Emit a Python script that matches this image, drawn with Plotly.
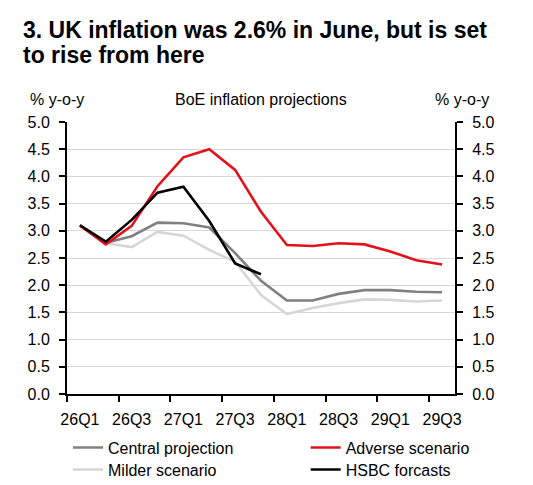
import plotly.graph_objects as go

# quarters shown on the x axis
quarters = ["26Q1", "26Q2", "26Q3", "26Q4", "27Q1", "27Q2", "27Q3", "27Q4",
            "28Q1", "28Q2", "28Q3", "28Q4", "29Q1", "29Q2", "29Q3"]

# % y-o-y
central = [3.10, 2.78, 2.90, 3.15, 3.14, 3.06, 2.59, 2.08,
           1.72, 1.72, 1.84, 1.91, 1.91, 1.88, 1.87]
milder = [3.10, 2.77, 2.70, 2.98, 2.91, 2.65, 2.43, 1.82,
          1.47, 1.58, 1.67, 1.74, 1.73, 1.70, 1.72]
adverse = [3.10, 2.75, 3.09, 3.82, 4.35, 4.50, 4.12, 3.35,
           2.74, 2.72, 2.77, 2.75, 2.62, 2.46, 2.38]
hsbc = [3.10, 2.80, 3.20, 3.70, 3.81, 3.18, 2.40, 2.20]

# the page body adds an 8px margin, so the figure is drawn 8px smaller
OFF = 8
W, H = 533 - OFF, 485 - OFF
L, R, T, B = 67 - OFF, 455.5 - OFF, 122 - OFF, 394.3 - OFF
FONT = "Liberation Sans, Arial, sans-serif"


def py(y):
    # window pixel row -> paper coordinate
    return (B - (y - OFF)) / (B - T)


def px(x):
    return ((x - OFF) - L) / (R - L)


fig = go.Figure()
fig.add_trace(go.Scatter(x=quarters, y=milder, name="Milder scenario", mode="lines",
                         line=dict(color="#d6d6d6", width=2.6), legend="legend3"))
fig.add_trace(go.Scatter(x=quarters, y=central, name="Central projection", mode="lines",
                         line=dict(color="#808080", width=2.6), legend="legend"))
fig.add_trace(go.Scatter(x=quarters, y=adverse, name="Adverse scenario", mode="lines",
                         line=dict(color="#e3111b", width=2.6), legend="legend2"))
# same range on both y axes, so the forecast line sits on the right-hand one
fig.add_trace(go.Scatter(x=quarters[:len(hsbc)], y=hsbc, name="HSBC forcasts", mode="lines",
                         line=dict(color="#000000", width=2.6), legend="legend4",
                         yaxis="y2"))

yax = dict(range=[0, 5], dtick=0.5, tick0=0, tickformat=".1f",
           ticks="outside", ticklen=6, tickwidth=2, tickcolor="black",
           showline=True, linecolor="black", linewidth=2,
           tickfont=dict(size=16, color="black"), zeroline=False,
           ticklabelstandoff=6)

leg = dict(orientation="v", xanchor="left", yanchor="middle",
           font=dict(size=16, color="black"), bgcolor="rgba(0,0,0,0)")
row1, row2 = 448, 470
col1, col2 = 68, 306

fig.update_layout(
    width=W, height=H,
    margin=dict(l=L, r=W - R, t=T, b=H - B, pad=0, autoexpand=False),
    paper_bgcolor="white", plot_bgcolor="white",
    font=dict(family=FONT, size=16, color="black"),
    xaxis=dict(type="category", range=[-0.5, 14.5], dtick=2, tickson="boundaries",
               ticks="outside", ticklen=6, tickwidth=2, tickcolor="black", tickangle=0,
               showline=True, linecolor="black", linewidth=2, showgrid=False,
               tickfont=dict(size=16, color="black"), zeroline=False,
               ticklabelstandoff=10),
    yaxis=dict(**yax, showgrid=True, gridcolor="#d9d9d9", gridwidth=1),
    yaxis2=dict(**yax, overlaying="y", side="right", showgrid=False),
    showlegend=True,
    legend=dict(**leg, x=px(col1), y=py(row1)),
    legend2=dict(**leg, x=px(col2), y=py(row1)),
    legend3=dict(**leg, x=px(col1), y=py(row2)),
    legend4=dict(**leg, x=px(col2), y=py(row2)),
)

annots = [
    dict(text="<b>3. UK inflation was 2.6% in June, but is set</b>", x=px(21), y=py(30),
         xanchor="left", yanchor="middle", font=dict(size=23)),
    dict(text="<b>to rise from here</b>", x=px(21), y=py(55),
         xanchor="left", yanchor="middle", font=dict(size=23)),
    dict(text="% y-o-y", x=px(28), y=py(99), xanchor="left", yanchor="middle"),
    dict(text="% y-o-y", x=px(492), y=py(99), xanchor="right", yanchor="middle"),
    dict(text="BoE inflation projections", x=0.5, y=py(99), xanchor="center", yanchor="middle"),
]
for a in annots:
    fig.add_annotation(xref="paper", yref="paper", showarrow=False, **a)

fig.write_html("out.html")
